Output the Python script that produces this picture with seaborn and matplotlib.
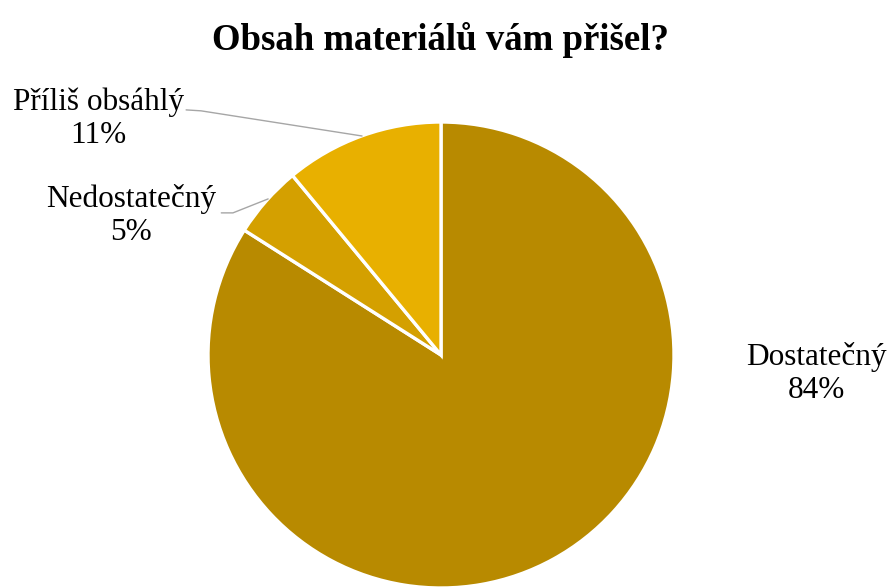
import matplotlib
matplotlib.use("Agg")
import matplotlib.pyplot as plt
import seaborn as sns

# Data
categories = ["Dostatečný", "Nedostatečný", "Příliš obsáhlý"]
shares = [84, 5, 11]
colors = ["#B88A00", "#D4A000", "#E8B000"]

sns.set_theme(style="white")
plt.rcParams["font.family"] = ["Liberation Serif", "DejaVu Serif"]
plt.rcParams["text.color"] = "black"

fig = plt.figure(figsize=(8.92, 5.88), dpi=100)
ax = fig.add_axes([0.2332, 0.0, 0.5224, 0.7925])

wedges, _ = ax.pie(shares, colors=colors, startangle=90, counterclock=False,
                   radius=1.0, wedgeprops=dict(edgecolor="white", linewidth=2.4))
ax.set_xlim(-1, 1)
ax.set_ylim(-1, 1)
ax.set_aspect("equal")

# label positions (in radius units) and leader line anchors
label_pos = {
    "Dostatečný": (1.61, -0.08),
    "Nedostatečný": (-1.33, 0.60),
    "Příliš obsáhlý": (-1.47, 1.015),
}
leaders = {
    "Nedostatečný": [(-0.943, 0.61), (-0.893, 0.61), (-0.742, 0.67)],
    "Příliš obsáhlý": [(-1.094, 1.052), (-1.030, 1.048), (-0.339, 0.94)],
}

for cat, val in zip(categories, shares):
    x, y = label_pos[cat]
    ax.text(x, y, f"{cat}\n{val}%", ha="center", va="center", fontsize=22.5,
            linespacing=1.2, clip_on=False, color="black")
    if cat in leaders:
        xs, ys = zip(*leaders[cat])
        ax.plot(xs, ys, color="#A6A6A6", lw=1.0, clip_on=False)

fig.text(0.494, 0.932, "Obsah materiálů vám přišel?", ha="center", va="center",
         fontsize=26.5, fontweight="bold", color="black")

fig.savefig("out.png", dpi=100, facecolor="white")
